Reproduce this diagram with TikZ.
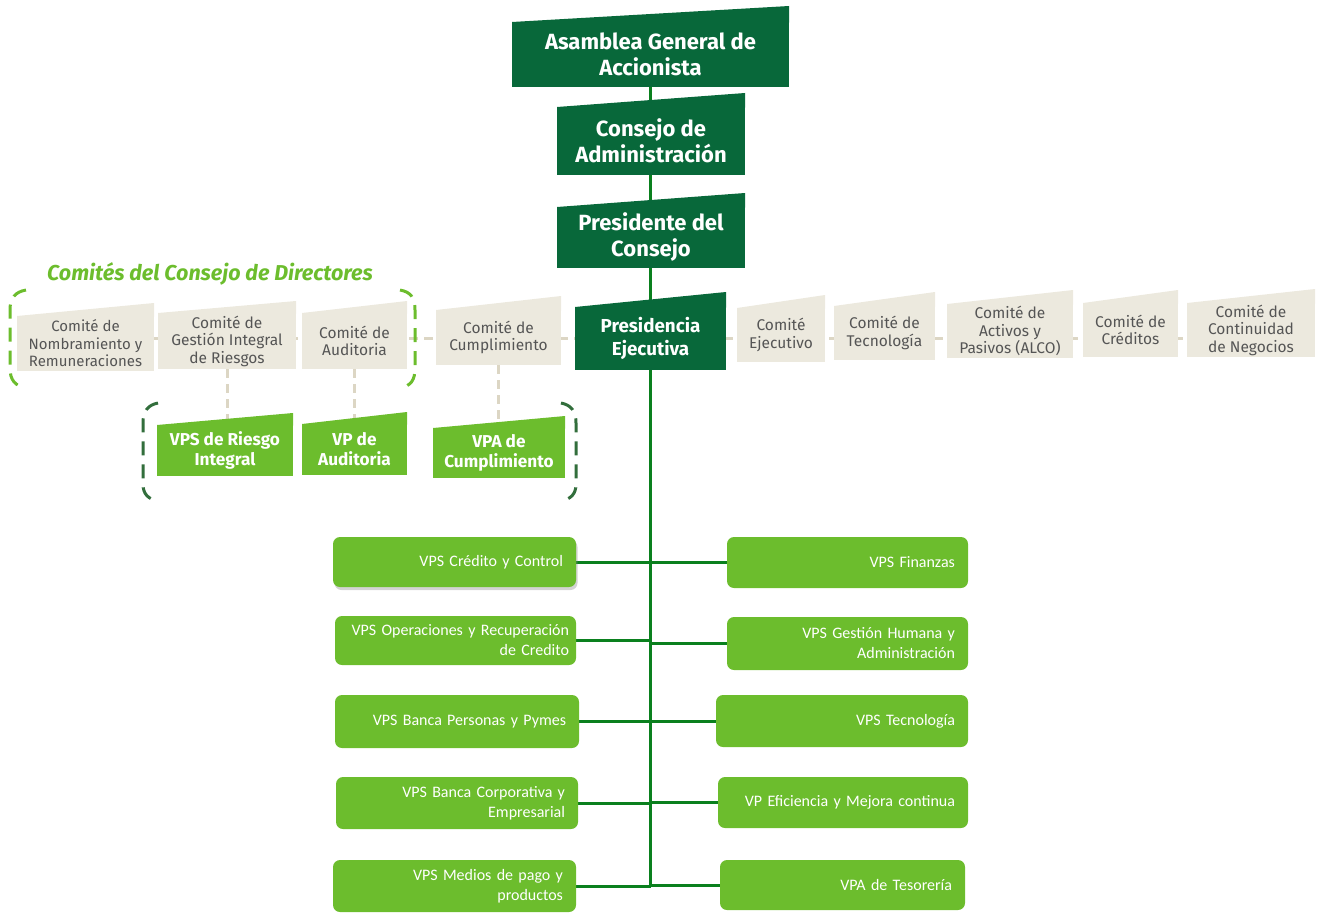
\documentclass[tikz,border=0pt]{standalone}
\usepackage{fontspec}
\setmainfont{Fira Sans}
\newfontfamily\carl{Carlito}
\usetikzlibrary{shadows}
\pgfdeclarelayer{bg}
\pgfsetlayers{bg,main}
\definecolor{dkgreen}{RGB}{8,104,58}
\definecolor{trunkgreen}{RGB}{10,128,30}
\definecolor{beige}{RGB}{236,233,222}
\definecolor{beigeline}{RGB}{220,214,196}
\definecolor{cmtext}{RGB}{85,85,85}
\definecolor{lime}{RGB}{108,189,45}
\definecolor{bracketdk}{RGB}{50,110,60}
\newcommand\slantbox[9]{%
  \pgfmathsetmacro\slbW{#5-#4}\pgfmathsetmacro\slbH{#8-#6}%
  \pgfmathsetmacro\slbX{(#4+#5)/2}\pgfmathsetmacro\slbY{(#6+#8)/2}%
  \node[#2, minimum width=\slbW pt, minimum height=\slbH pt] (#1) at (\slbX,\slbY) {#9};
  \fill[#3] (#4,#6+0.6) -- (#4,#6) -- (#5,#7) -- (#5,#6+0.6) -- cycle;
}
\newcommand\gbox[7][]{%
  \pgfmathsetmacro\slbW{#4-#3}\pgfmathsetmacro\slbH{#6-#5}\pgfmathsetmacro\slbT{#4-#3-26}%
  \pgfmathsetmacro\slbX{(#3+#4)/2}\pgfmathsetmacro\slbY{(#5+#6)/2}%
  \node[gb, minimum width=\slbW pt, minimum height=\slbH pt, text width=\slbT pt, #1] (#2) at (\slbX,\slbY) {#7};
}
\tikzset{
  dkbox/.style={fill=dkgreen, text=white, font=\fontsize{22}{26}\selectfont\bfseries, align=center, inner sep=0pt, outer sep=0pt},
  cmbox/.style={fill=beige, text=cmtext, font=\fontsize{15.5}{17.5}\selectfont, align=center, inner sep=0pt, outer sep=0pt},
  vpbox/.style={fill=lime, text=white, font=\fontsize{17.2}{20}\selectfont\bfseries, align=center, inner sep=0pt, outer sep=0pt},
  gb/.style={fill=lime, text=white, font=\carl\fontsize{16}{20}\selectfont, align=right, rounded corners=7pt, inner xsep=13pt, inner ysep=0pt, outer sep=0pt},
  trunk/.style={draw=trunkgreen, line width=3pt},
  bdash/.style={draw=beigeline, line width=3pt, dash pattern=on 9pt off 6pt},
  limebr/.style={draw=lime, line width=3pt, dash pattern=on 14pt off 9pt},
  dkbr/.style={draw=bracketdk, line width=3pt, dash pattern=on 14pt off 9pt},
  ttl/.style={text=lime, font=\fontsize{21.5}{24}\selectfont\bfseries\itshape, inner sep=0pt}
}
\begin{document}
\begin{tikzpicture}[x=1pt,y=-1pt]
\useasboundingbox (0,0) rectangle (1321,912);
% top chain
\slantbox{asam}{dkbox}{dkgreen}{512}{789}{22}{6}{87}{Asamblea General de\\Accionista}
\slantbox{cons}{dkbox}{dkgreen}{557}{745}{107}{93}{175}{Consejo de\\Administración}
\slantbox{pres}{dkbox}{dkgreen}{557}{745}{207}{193}{268}{Presidente del\\Consejo}
\slantbox{ejec}{dkbox, font=\fontsize{18.8}{23}\selectfont\bfseries}{dkgreen}{575}{726}{307}{292}{370}{Presidencia\\Ejecutiva}
% committees
\node[ttl] (title) at (210,274) {Comités del Consejo de Directores};
\slantbox{nomb}{cmbox, font=\fontsize{15}{17.5}\selectfont}{beige}{17}{154}{316}{303}{371}{Comité de\\Nombramiento y\\Remuneraciones}
\slantbox{gest}{cmbox}{beige}{158}{296}{313}{301}{369}{Comité de\\Gestión Integral\\de Riesgos}
\slantbox{aud}{cmbox}{beige}{302}{407}{313}{301}{369}{Comité de\\Auditoria}
\slantbox{cump}{cmbox}{beige}{436}{561}{310}{296}{365}{Comité de\\Cumplimiento}
\slantbox{cejec}{cmbox}{beige}{737}{825}{308}{295}{362}{Comité\\Ejecutivo}
\slantbox{ctec}{cmbox}{beige}{834}{935}{306}{292}{360}{Comité de\\Tecnología}
\slantbox{calco}{cmbox}{beige}{947}{1073}{304}{290}{358}{Comité de\\Activos y\\Pasivos (ALCO)}
\slantbox{ccred}{cmbox}{beige}{1083}{1178}{303}{290}{357}{Comité de\\Créditos}
\slantbox{ccont}{cmbox}{beige}{1187}{1315}{303}{289}{357}{Comité de\\Continuidad\\de Negocios}
% VPs under committees
\slantbox{vpri}{vpbox}{lime}{157}{293}{425}{413}{476}{VPS de Riesgo\\Integral}
\slantbox{vpau}{vpbox}{lime}{302}{407}{424}{412}{475}{VP de\\Auditoria}
\slantbox{vpac}{vpbox}{lime}{433}{565}{428}{416}{478}{VPA de\\Cumplimiento}
% bottom boxes
\gbox[drop shadow={opacity=0.35, shadow xshift=1.5pt, shadow yshift=-3pt}]{l1}{333}{576}{537}{587}{VPS Crédito y Control}
\gbox[text width=227pt, inner xsep=7pt]{l2}{335}{576}{616}{665}{VPS Operaciones y Recuperación\\de Credito}
\gbox{l3}{335}{579}{695}{748}{VPS Banca Personas y Pymes}
\gbox{l4}{336}{578}{777}{829}{VPS Banca Corporativa y\\Empresarial}
\gbox{l5}{333}{576}{860}{912}{VPS Medios de pago y\\productos}
\gbox{r1}{727}{968}{537}{588}{VPS Finanzas}
\gbox{r2}{727}{968}{617}{670}{VPS Gestión Humana y\\Administración}
\gbox{r3}{716}{968}{695}{747}{VPS Tecnología}
\gbox{r4}{718}{968}{777}{828}{VP Eficiencia y Mejora continua}
\gbox{r5}{720}{965}{860}{910}{VPA de Tesorería}
\coordinate (hrow) at (0,338);
\begin{pgfonlayer}{bg}
  \draw[trunk] (asam.south) -- (ejec.south |- l5.east);
  \draw[bdash] (nomb.east |- hrow) -- (ccont.west |- hrow);
  \draw[bdash] (gest.south) -- (gest.south |- vpri.north);
  \draw[bdash] (aud.south) -- (aud.south |- vpau.north);
  \draw[bdash] (cump.south) -- (cump.south |- vpac.north);
  \foreach \b in {l1,l2,l3,l4,l5}{\draw[trunk] (\b.east) -- (\b.east -| ejec.south);}
  \foreach \b in {r1,r2,r3,r4,r5}{\draw[trunk] (\b.west) -- (\b.west -| ejec.south);}
\end{pgfonlayer}
% dashed brackets
\draw[limebr] (26,290) .. controls (15,292) and (10,298) .. (10,310) -- (10,368) .. controls (10,380) and (15,386) .. (26,388);
\draw[limebr] (400,290) .. controls (411,292) and (415,298) .. (415,310) -- (415,368) .. controls (415,380) and (411,386) .. (400,388);
\draw[dkbr] (158,403) .. controls (148,405) and (143,411) .. (143,423) -- (143,484) .. controls (143,494) and (148,499) .. (158,501);
\draw[dkbr] (561,403) .. controls (571,405) and (576,411) .. (576,423) -- (576,484) .. controls (576,494) and (571,499) .. (561,501);
\end{tikzpicture}
\end{document}
